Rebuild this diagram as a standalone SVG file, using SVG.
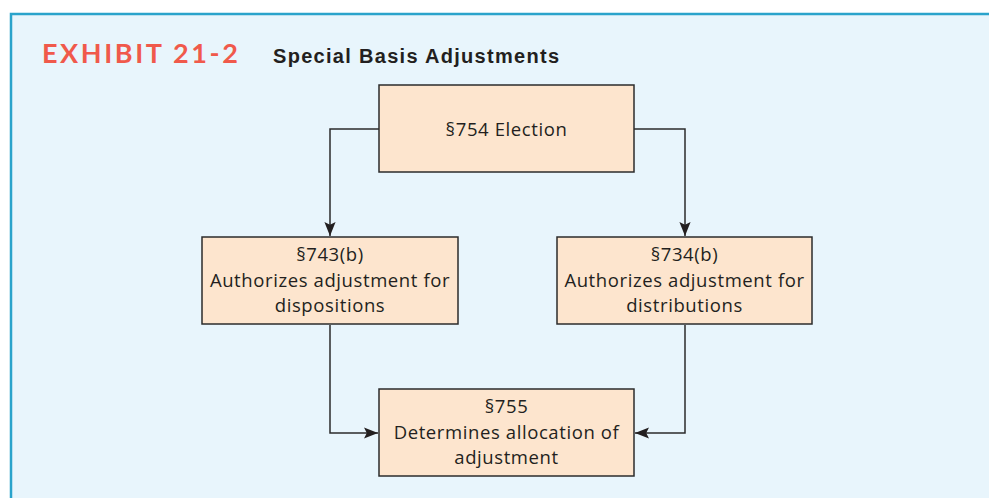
<svg xmlns="http://www.w3.org/2000/svg" width="989" height="498" viewBox="0 0 989 498">
<defs>
<style>
.box{fill:#FDE5CE;stroke:#2b2b2b;stroke-width:1.5}
.t{font-family:"Open Sans","Liberation Sans",Arial,sans-serif;font-size:18.5px;letter-spacing:0.6px;fill:#231f20;text-anchor:middle}
.c{fill:none;stroke:#2b2b2b;stroke-width:1.5}
</style>
<marker id="ah" viewBox="0 0 10 10" refX="10" refY="5" markerWidth="14" markerHeight="14" markerUnits="userSpaceOnUse" orient="auto">
<path d="M0,1 L10,5 L0,9 L2,5 Z" fill="#231f20"/>
</marker>
</defs>
<rect x="0" y="0" width="989" height="498" fill="#ffffff"/>
<rect x="11" y="14" width="990" height="490" fill="#E8F5FC" stroke="#2AA3CB" stroke-width="2.5"/>
<text x="42" y="63" font-family="Lato,'Liberation Sans',sans-serif" font-weight="bold" font-size="27" letter-spacing="2.6" fill="#F0594B">EXHIBIT 21-2</text>
<text x="273" y="63" font-family="'Liberation Sans',Arial,sans-serif" font-weight="bold" font-size="20" letter-spacing="1.3" fill="#231f20">Special Basis Adjustments</text>
<g id="connectors">
<polyline class="c" points="379,129 330,129 330,236" marker-end="url(#ah)"/>
<polyline class="c" points="634,129 685,129 685,236" marker-end="url(#ah)"/>
<polyline class="c" points="330,325 330,433 378,433" marker-end="url(#ah)"/>
<polyline class="c" points="685,325 685,433 635,433" marker-end="url(#ah)"/>
</g>
<g id="n754">
<rect class="box" x="379" y="85" width="255" height="87"/>
<text class="t" x="506.5" y="135.5">§754 Election</text>
</g>
<g id="n743">
<rect class="box" x="202" y="237" width="256" height="87"/>
<text class="t" x="330" y="261">§743(b)</text>
<text class="t" x="330" y="287">Authorizes adjustment for</text>
<text class="t" x="330" y="312">dispositions</text>
</g>
<g id="n734">
<rect class="box" x="557" y="237" width="255" height="87"/>
<text class="t" x="684.5" y="261">§734(b)</text>
<text class="t" x="684.5" y="287">Authorizes adjustment for</text>
<text class="t" x="684.5" y="312">distributions</text>
</g>
<g id="n755">
<rect class="box" x="379" y="389" width="255" height="87"/>
<text class="t" x="506.5" y="413">§755</text>
<text class="t" x="506.5" y="439">Determines allocation of</text>
<text class="t" x="506.5" y="464">adjustment</text>
</g>
</svg>
